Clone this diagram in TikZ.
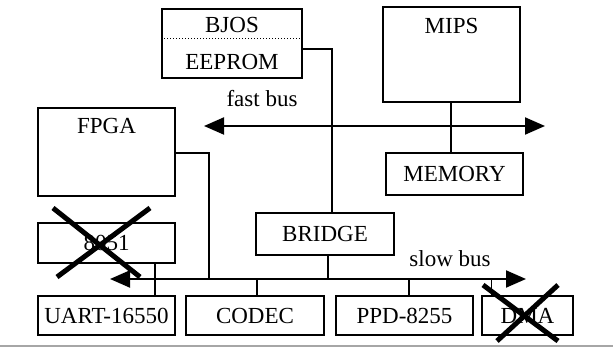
\documentclass[tikz,border=0pt]{standalone}
\usepackage{fontspec}
\setmainfont{Liberation Serif}
\usetikzlibrary{arrows.meta}
\begin{document}
\begin{tikzpicture}[x=1pt,y=-1pt,
  box/.style={draw,line width=2pt,inner sep=0pt,minimum height=40pt},
  txt/.style={font=\fontsize{23}{26}\selectfont,inner sep=0pt},
  wire/.style={line width=2pt},
  bus/.style={line width=2pt,-{Triangle[length=20pt,width=17pt]}},
  cross/.style={line width=5pt}]
\useasboundingbox (0,0) rectangle (613,347);
% boxes
\node[box,minimum width=140pt,minimum height=69pt] (bios) at (232,43.5) {};
\node[txt] (biost) at (232,25) {BJOS};
\node[txt] (eeprom) at (232,62) {EEPROM};
\draw[dotted,line width=1pt] (bios.west |- 0,39) coordinate (bl) -- (bios.east |- bl);
\node[box,minimum width=137pt,minimum height=95pt] (mips) at (451.5,54.5) {};
\node[txt] (mipst) at (451.5,26) {MIPS};
\node[box,minimum width=137pt,minimum height=88pt] (fpga) at (106.5,152) {};
\node[txt] (fpgat) at (106.5,126) {FPGA};
\node[box,minimum width=137pt,minimum height=42pt,txt] (memory) at (454.5,174) {MEMORY};
\node[box,minimum width=138pt,minimum height=42pt,txt] (bridge) at (325,234) {BRIDGE};
\node[box,minimum width=137pt,minimum height=40pt,txt] (i8051) at (106.5,243) {8051};
\node[box,minimum width=137pt,minimum height=39pt,txt] (uart) at (106.5,315.5) {UART-16550};
\node[box,minimum width=138pt,minimum height=39pt,txt] (codec) at (255,315.5) {CODEC};
\node[box,minimum width=137pt,minimum height=39pt,txt] (ppd) at (404.5,315.5) {PPD-8255};
\node[box,minimum width=91pt,minimum height=39pt,txt] (dma) at (527.5,315.5) {DMA};
% buses
\coordinate (fbl) at (204,126);
\coordinate (fbr) at (545,126);
\coordinate (fbm) at (375,126);
\draw[bus] (fbm) -- (fbl);
\draw[bus] (fbm) -- (fbr);
\node[txt] (fastlbl) at (262,99) {fast bus};
\coordinate (sbl) at (110,279);
\coordinate (sbr) at (526,279);
\coordinate (sbm) at (300,279);
\draw[bus] (sbm) -- (sbl);
\draw[bus] (sbm) -- (sbr);
\node[txt] (slowlbl) at (450,259) {slow bus};
% connectors
\draw[wire] (mips.south -| 451,0) -- (memory.north -| 451,0);
\coordinate (bj) at (332,49);
\draw[wire] (bios.east |- bj) -- (bj) -- (bridge.north -| bj);
\draw[wire] (bridge.south -| 328,0) -- (sbm -| 328,0);
\coordinate (fj) at (209,153);
\draw[wire] (fpga.east |- fj) -- (fj) -- (sbm -| fj);
\draw[wire] (i8051.south -| 155,0) -- (uart.north -| 155,0);
\draw[wire] (sbm -| 257,0) -- (codec.north -| 257,0);
\draw[wire] (sbm -| 409,0) -- (ppd.north -| 409,0);
\draw[wire,line width=1pt] (sbm -| 491,0) -- (dma.north -| 491,0);
% crosses
\draw[cross] (53,208) -- (140,277);
\draw[cross] (57,277) -- (150,208);
\draw[cross] (483,285) -- (558,341);
\draw[cross] (497,341) -- (558,285);
% scan edge
\draw[gray!70,line width=1.2pt] (0,346) -- (613,346);
\end{tikzpicture}
\end{document}
